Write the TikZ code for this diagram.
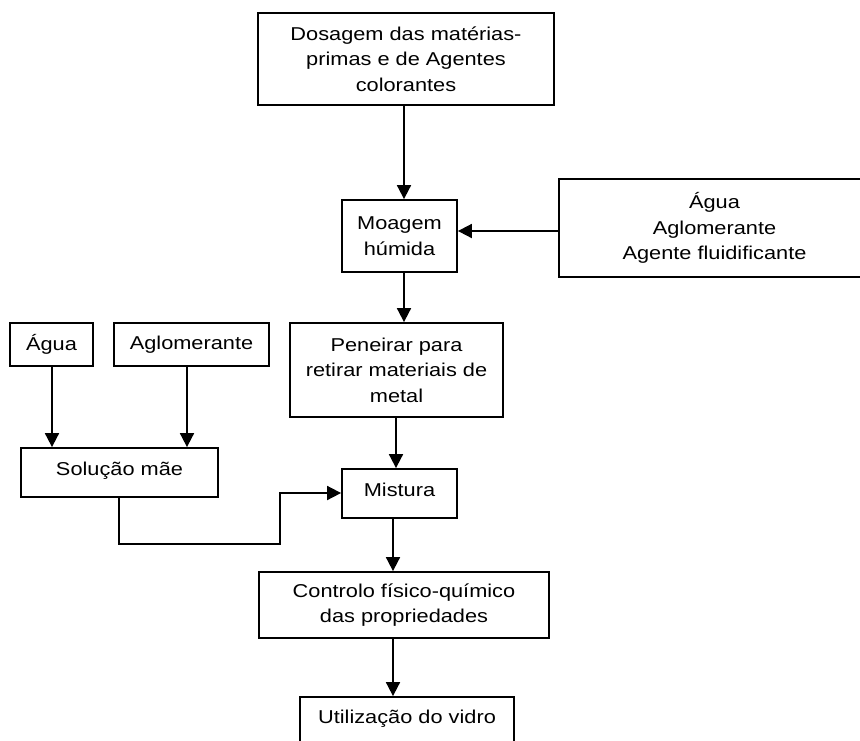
\documentclass[tikz,border=0pt]{standalone}
\usepackage{fontspec}
\setmainfont[FakeStretch=1.17]{Liberation Sans}
\usetikzlibrary{arrows.meta}
\begin{document}
\begin{tikzpicture}[x=1pt,y=-1pt,
  box/.style={draw, line width=1.8pt, rectangle, inner sep=0pt, align=center,
    font=\fontsize{18.6}{25.6}\selectfont},
  arr/.style={draw, line width=1.8pt, -{Triangle[width=14pt,length=14pt]}}]
\path[use as bounding box, clip] (0,0) rectangle (860,740);

% process boxes
\node[box, minimum width=296pt, minimum height=92pt] (dos) at (406,59)
  {Dosagem das matérias-\\primas e de Agentes\\colorantes};
\node[box, minimum width=115pt, minimum height=72pt] (moag) at (399.5,236)
  {Moagem\\húmida};
\node[box, minimum width=311pt, minimum height=98pt] (adit) at (714.5,228)
  {Água\\Aglomerante\\Agente fluidificante};
\node[box, minimum width=83pt, minimum height=43pt] (agua) at (51.5,344.5) {Água};
\node[box, minimum width=155pt, minimum height=43pt] (aglom) at (191.5,344.5) {Aglomerante};
\node[box, minimum width=213pt, minimum height=94pt] (pen) at (396.5,370)
  {Peneirar para\\retirar materiais de\\metal};
\node[box, minimum width=197pt, minimum height=49pt, text height=13.3pt, text depth=8pt]
  (sol) at (119.5,472.5) {Solução mãe};
\node[box, minimum width=115pt, minimum height=49pt, text height=13.3pt, text depth=8pt]
  (mist) at (399.5,493.5) {Mistura};
\node[box, minimum width=290pt, minimum height=66pt] (ctrl) at (404,605)
  {Controlo físico-químico\\das propriedades};
\node[box, minimum width=214pt, minimum height=48pt, text height=13.3pt, text depth=8pt]
  (util) at (407,721) {Utilização do vidro};

% bend point of the side feed into the mixing step
\coordinate (bend) at (280,544);

% connectors
\draw[arr] ([xshift=-2pt]dos.south) -- ([xshift=4.5pt]moag.north);
\draw[arr] ([yshift=-3pt]adit.west) -- ([yshift=5pt]moag.east);
\draw[arr] ([xshift=4.5pt]moag.south) -- ([xshift=7.5pt]pen.north);
\draw[arr] ([xshift=0.5pt]agua.south) -- ([xshift=0.5pt]agua.south |- sol.north);
\draw[arr] ([xshift=-4.5pt]aglom.south) -- ([xshift=-4.5pt]aglom.south |- sol.north);
\draw[arr] ([xshift=-0.5pt]pen.south) -- ([xshift=-0.5pt]pen.south |- mist.north);
\draw[arr] ([xshift=-0.5pt]sol.south) |- (bend) |- ([yshift=0.5pt]mist.west);
\draw[arr] ([xshift=-6.5pt]mist.south) -- ([xshift=-6.5pt]mist.south |- ctrl.north);
\draw[arr] ([xshift=-11pt]ctrl.south) -- ([xshift=-11pt]ctrl.south |- util.north);
\end{tikzpicture}
\end{document}
